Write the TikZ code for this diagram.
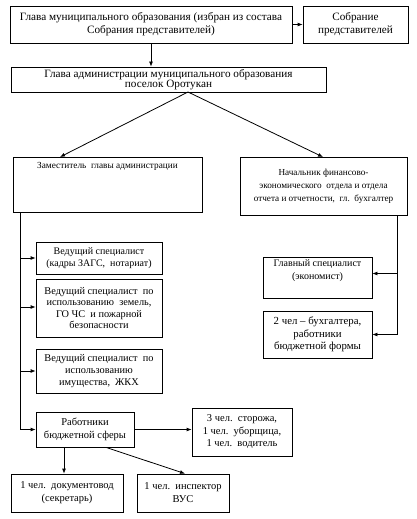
\documentclass[tikz,border=0pt]{standalone}
\usepackage{fontspec}
\setmainfont{Liberation Serif}
\usetikzlibrary{arrows.meta,calc}
\newcommand\fs[2]{\fontsize{#1}{#2}\selectfont}
\begin{document}
\begin{tikzpicture}[x=1pt,y=-1pt,
  box/.style={draw, line width=0.8pt, inner sep=1pt, align=center, anchor=center,
    font=\fs{10}{12}},
  arr/.style={line width=0.8pt, -{Latex[length=5pt,width=4pt]}},
  ln/.style={line width=0.8pt}]
\useasboundingbox (0,0) rectangle (416,519);
% nodes
\node[box, minimum width=282pt, minimum height=37pt, font=\fs{11.2}{13.3}] (b1) at (151,24.5)
  {Глава муниципального образования (избран из состава\\Собрания представителей)};
\node[box, minimum width=105pt, minimum height=37pt, font=\fs{11.2}{13.3}] (b2) at (355.5,24.5)
  {Собрание\\представителей};
\node[box, minimum width=315pt, minimum height=25pt, font=\fs{11.2}{10.5}] (b3) at (168.5,79.5)
  {Глава администрации муниципального образования\\поселок Оротукан};
\node[box, minimum width=189pt, minimum height=55pt,
  label={[anchor=north, font=\fs{9.3}{12}, inner sep=0pt, yshift=-6pt]north:Заместитель\ \ главы администрации}] (zam) at (107.5,184.5) {};
\node[box, minimum width=167pt, minimum height=58pt, font=\fs{9.2}{12.8}] (nach) at (323.5,186)
  {Начальник финансово-\\экономического\ \ отдела и отдела\\отчета и отчетности,\ \ гл.\ \ бухгалтер};
\node[box, minimum width=126pt, minimum height=32pt] (v1) at (99,258)
  {Ведущий специалист\\(кадры ЗАГС,\ \ нотариат)};
\node[box, minimum width=126pt, minimum height=58pt, font=\fs{10.3}{11.5}] (v2) at (99,308)
  {Ведущий специалист\ \ по\\использованию\ \ земель,\\ГО ЧС\ \ и пожарной\\безопасности};
\node[box, minimum width=126pt, minimum height=44pt, font=\fs{10.3}{12.3}] (v3) at (99,371)
  {Ведущий специалист\ \ по\\использованию\\имущества,\ \ ЖКХ};
\node[box, minimum width=98pt, minimum height=35pt, font=\fs{10.5}{13}] (rab) at (85,429.5)
  {Работники\\бюджетной сферы};
\node[box, minimum width=100pt, minimum height=48pt, font=\fs{10.5}{12.5}] (tri) at (242,432)
  {3 чел.\ \ сторожа,\\1 чел.\ \ уборщица,\\1 чел.\ \ водитель};
\node[box, minimum width=112pt, minimum height=38pt, font=\fs{10.5}{13}] (doc) at (67,493)
  {1 чел.\ \ документовод\\(секретарь)};
\node[box, minimum width=92pt, minimum height=38pt, font=\fs{10.5}{13}] (vus) at (183,493)
  {1 чел.\ \ инспектор\\ВУС};
\node[box, minimum width=109pt, minimum height=41pt, font=\fs{10}{13}] (glav) at (317.5,277.5)
  {Главный специалист\\(экономист)\\[2pt]};
\node[box, minimum width=109pt, minimum height=47pt, font=\fs{10.8}{12.5}] (dva) at (317.5,334.5)
  {2 чел -- бухгалтера,\\работники\\бюджетной формы};
% coordinates
\coordinate (apex) at (188,92);
\coordinate (zamin) at (60,157);
\coordinate (nachin) at (323,157);
\coordinate (lbus) at (20,212);
\coordinate (rbus) at (397,215);
% connectors
\draw[arr] (b1.east) -- (b2.west);
\draw[arr] (b1.south) -- (b1.south |- b3.north);
\draw[arr] (apex) -- (zamin);
\draw[arr] (apex) -- (nachin);
\draw[ln] (lbus) -- (lbus |- rab.west);
\draw[arr] (lbus |- v1.west) -- (v1.west);
\draw[arr] ([yshift=1pt]lbus |- v2.west) -- ([yshift=1pt]v2.west);
\draw[arr] (lbus |- v3.west) -- (v3.west);
\draw[arr] (lbus |- rab.west) -- (rab.west);
\draw[ln] (rbus) -- (rbus |- dva.east);
\draw[arr] ([yshift=4pt]rbus |- glav.east) -- ([yshift=4pt]glav.east);
\draw[arr] (rbus |- dva.east) -- (dva.east);
\draw[arr] (rab.east) -- (rab.east -| tri.west);
\draw[arr] ([xshift=-21pt]rab.south) -- ([xshift=-21pt]rab.south |- doc.north);
\draw[arr] ([xshift=21pt]rab.south) -- ([xshift=2pt]vus.north);
\end{tikzpicture}
\end{document}
